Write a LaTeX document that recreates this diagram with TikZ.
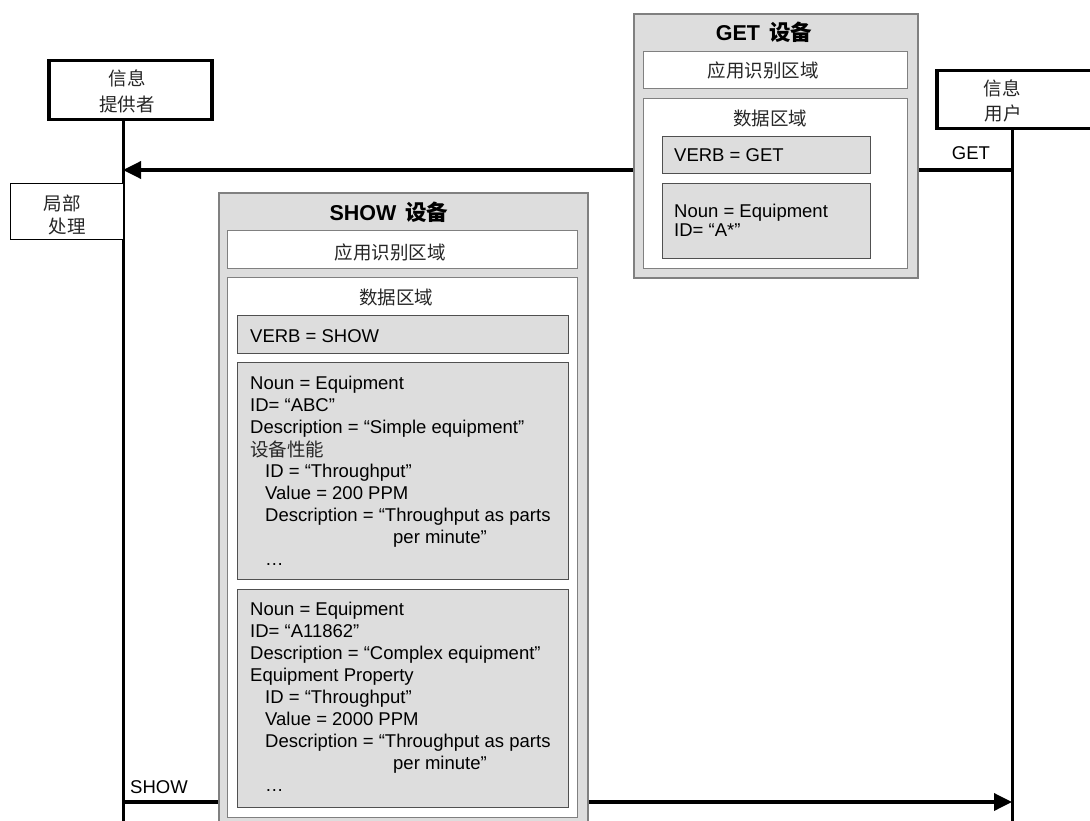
\documentclass[tikz,border=0pt]{standalone}
\usepackage{fontspec}
\setmainfont{Liberation Sans}
\newfontfamily\cjk{Noto Sans CJK SC}
\usetikzlibrary{arrows.meta}
\definecolor{fillGray}{HTML}{DDDDDD}
\definecolor{edgeGray}{HTML}{808080}
\definecolor{edgeDark}{HTML}{505050}
\newcommand{\zh}[1]{{\cjk #1}}

\tikzset{
  actor/.style={draw=black, line width=3.5pt, fill=white, anchor=north west, inner sep=0pt},
  localbox/.style={draw=black, line width=0.9pt, fill=white, anchor=north west, inner sep=0pt},
  msgbox/.style={draw=edgeGray, line width=1.6pt, fill=fillGray, anchor=north west, inner sep=0pt},
  region/.style={draw=edgeGray, line width=1.2pt, fill=white, anchor=north west, inner sep=0pt},
  field/.style={draw=edgeDark, line width=1.2pt, fill=fillGray, anchor=north west, inner sep=0pt},
  life/.style={line width=3pt},
  msg/.style={line width=3.5pt, -{Triangle[length=18pt,width=17pt]}},
  txt/.style={anchor=base west, inner sep=0pt, font=\fontsize{18.5}{22}\selectfont},
  zhtxt/.style={inner sep=0pt, font=\cjk\fontsize{18.5}{22}\selectfont, text=black!85},
  title/.style={anchor=base, inner sep=0pt, font=\bfseries\fontsize{21.5}{24}\selectfont}
}

\begin{document}
\begin{tikzpicture}[x=1pt,y=-1pt]
\useasboundingbox (0,0) rectangle (1090,821);

% lifelines
\coordinate (provEnd) at (123,821);
\coordinate (consEnd) at (1012,821);
\node[actor, minimum width=163pt, minimum height=59pt] (prov) at (47,59) {};
\node[actor, minimum width=170pt, minimum height=58pt] (cons) at (935,69) {};
\draw[life] (prov.south -| provEnd) -- (provEnd);
\draw[life] (cons.south -| consEnd) -- (consEnd);
\node[zhtxt] (provA) at (127,78) {信息};
\node[zhtxt] (provB) at (127,104) {提供者};
\node[zhtxt] (consA) at (1002,88) {信息};
\node[zhtxt] (consB) at (1003,113) {用户};

% messages
\coordinate (getR) at (1012,170);
\coordinate (getL) at (123,170);
\coordinate (showL) at (123,802);
\coordinate (showR) at (1012,802);
\draw[msg] (getR) -- (getL);
\draw[msg] (showL) -- (showR);
\node[anchor=base, inner sep=0pt, font=\fontsize{18.5}{22}\selectfont] (getLbl) at (971,160) {GET};
\node[txt] (showLbl) at (130,793) {SHOW};

% local processing
\node[localbox, minimum width=113pt, minimum height=56pt] (local) at (10,183) {};
\node[zhtxt] (localA) at (62,203) {局部};
\node[zhtxt] (localB) at (67,226) {处理};

% GET message
\node[msgbox, minimum width=284pt, minimum height=264pt] (getBox) at (633,13) {};
\node[title] (getTitle) at (764,41) {GET\hspace{9pt}\zh{设备}};
\node[region, minimum width=264pt, minimum height=37pt] (getApp) at (643,51) {};
\node[zhtxt] (getAppLbl) at (763,70) {应用识别区域};
\node[region, minimum width=264pt, minimum height=170pt] (getData) at (643,98) {};
\node[zhtxt] (getDataLbl) at (770,118) {数据区域};
\node[field, minimum width=208pt, minimum height=37pt] (getVerb) at (662,136) {};
\node[txt] (getVerbLbl) at (674,162) {VERB = GET};
\node[field, minimum width=208pt, minimum height=75pt] (getNoun) at (662,183) {};
\node[txt] (getNounA) at (674,218) {Noun = Equipment};
\node[txt] (getNounB) at (674,237) {ID= “A*”};

% SHOW message
\node[msgbox, minimum width=369pt, minimum height=640pt] (showBox) at (218,192) {};
\node[title] (showTitle) at (389,221) {SHOW\hspace{9pt}\zh{设备}};
\node[region, minimum width=350pt, minimum height=38pt] (showApp) at (227,230) {};
\node[zhtxt] (showAppLbl) at (390,252) {应用识别区域};
\node[region, minimum width=350pt, minimum height=540pt] (showData) at (227,277) {};
\node[zhtxt] (showDataLbl) at (396,297) {数据区域};
\node[field, minimum width=331pt, minimum height=38pt] (showVerb) at (237,315) {};
\node[txt] (showVerbLbl) at (250,342) {VERB = SHOW};

% first equipment
\node[field, minimum width=331pt, minimum height=217pt] (showNounA) at (237,362) {};
\node[txt] (a1) at (250,389) {Noun = Equipment};
\node[txt] (a2) at (250,411) {ID= “ABC”};
\node[txt] (a3) at (250,433) {Description = “Simple equipment”};
\node[txt, font=\cjk\fontsize{18.5}{22}\selectfont, text=black!85] (a4) at (250,456) {设备性能};
\node[txt] (a5) at (265,477) {ID = “Throughput”};
\node[txt] (a6) at (265,499) {Value = 200 PPM};
\node[txt] (a7) at (265,521) {Description = “Throughput as parts};
\node[txt] (a8) at (393,543) {per minute”};
\node[txt] (a9) at (265,565) {…};

% second equipment
\node[field, minimum width=331pt, minimum height=218pt] (showNounB) at (237,589) {};
\node[txt] (b1) at (250,615) {Noun = Equipment};
\node[txt] (b2) at (250,637) {ID= “A11862”};
\node[txt] (b3) at (250,659) {Description = “Complex equipment”};
\node[txt] (b4) at (250,681) {Equipment Property};
\node[txt] (b5) at (265,703) {ID = “Throughput”};
\node[txt] (b6) at (265,725) {Value = 2000 PPM};
\node[txt] (b7) at (265,747) {Description = “Throughput as parts};
\node[txt] (b8) at (393,769) {per minute”};
\node[txt] (b9) at (265,791) {…};
\end{tikzpicture}
\end{document}
